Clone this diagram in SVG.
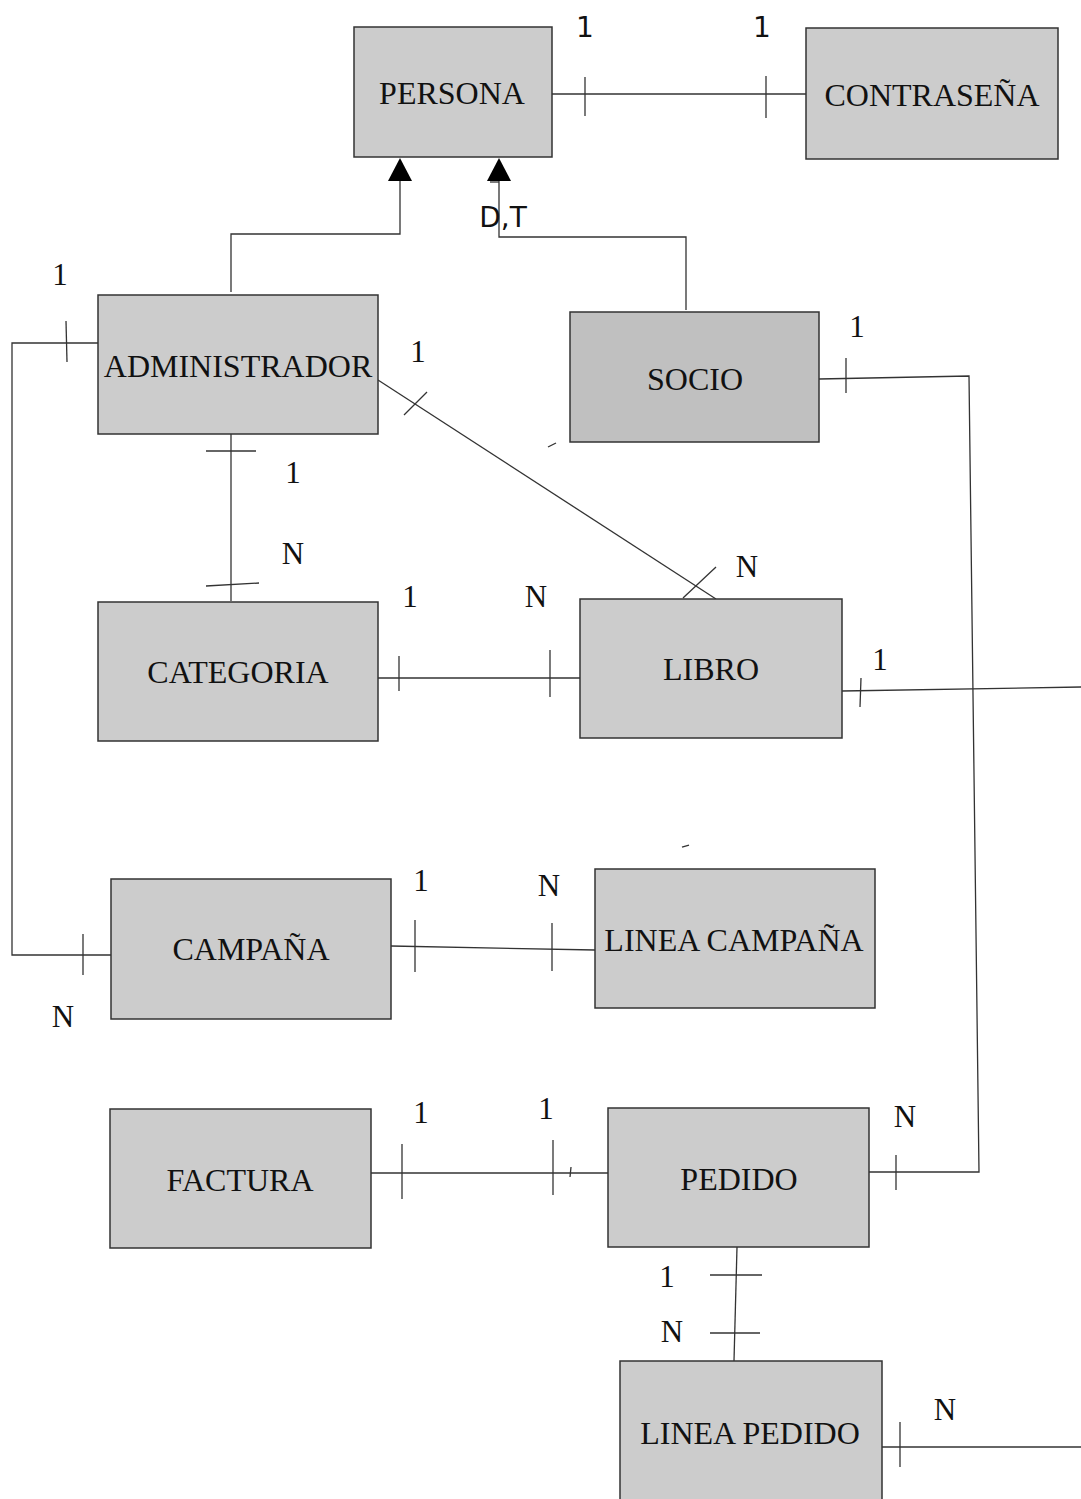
<svg xmlns="http://www.w3.org/2000/svg" width="1081" height="1499" viewBox="0 0 1081 1499">
<style>
.box{fill:#cccccc;stroke:#333333;stroke-width:1.5}
.dark{fill:#c0c0c0}
.ln{stroke:#333333;stroke-width:1.3;fill:none}
.nt{font-family:"Liberation Serif",serif;font-size:32px;fill:#111;text-anchor:middle}
.lb{font-family:"Liberation Serif",serif;font-size:31px;fill:#111;text-anchor:middle}
.sl{font-family:"DejaVu Sans",sans-serif;font-size:28px;fill:#111;text-anchor:middle}
</style>
<rect width="1081" height="1499" fill="#ffffff"/>
<g id="connectors">
<!-- PERSONA - CONTRASENA -->
<line class="ln" x1="552" y1="94" x2="806" y2="94"/>
<line class="ln" x1="585" y1="77" x2="585" y2="116"/>
<line class="ln" x1="766" y1="76" x2="766" y2="118"/>
<!-- ISA arrows -->
<path class="ln" d="M231,292 L231,234 L400,234 L400,180"/>
<path d="M388,181 L400,158 L412,181 Z" fill="#000"/>
<path class="ln" d="M686,310 L686,237 L499,237 L499,180"/>
<path d="M487,181 L499,158 L511,181 Z" fill="#000"/>
<line class="ln" x1="490" y1="182" x2="499" y2="182"/>
<!-- ADMIN - CAMPANA -->
<path class="ln" d="M98,343 L12,343 L12,955 L111,955"/>
<line class="ln" x1="66" y1="321" x2="67" y2="362"/>
<line class="ln" x1="83" y1="934" x2="83" y2="975"/>
<!-- ADMIN - LIBRO -->
<line class="ln" x1="378" y1="380" x2="716" y2="599"/>
<line class="ln" x1="404" y1="415" x2="427" y2="392"/>
<line class="ln" x1="683" y1="598" x2="716" y2="567"/>
<line class="ln" x1="548" y1="447" x2="556" y2="443"/>
<!-- ADMIN - CATEGORIA -->
<line class="ln" x1="231" y1="434" x2="231" y2="601"/>
<line class="ln" x1="206" y1="451" x2="256" y2="451"/>
<line class="ln" x1="206" y1="586" x2="259" y2="583"/>
<!-- CATEGORIA - LIBRO -->
<line class="ln" x1="378" y1="678" x2="580" y2="678"/>
<line class="ln" x1="399" y1="656" x2="399" y2="691"/>
<line class="ln" x1="550" y1="650" x2="550" y2="697"/>
<!-- LIBRO right -->
<line class="ln" x1="842" y1="691" x2="1081" y2="687"/>
<line class="ln" x1="861" y1="678" x2="860" y2="707"/>
<!-- SOCIO - PEDIDO -->
<path class="ln" d="M819,379 L969,376 L979,1172 L869,1172"/>
<line class="ln" x1="846" y1="358" x2="846" y2="393"/>
<line class="ln" x1="896" y1="1155" x2="896" y2="1190"/>
<!-- CAMPANA - LINEA CAMPANA -->
<line class="ln" x1="391" y1="946" x2="595" y2="950"/>
<line class="ln" x1="415" y1="920" x2="415" y2="972"/>
<line class="ln" x1="552" y1="923" x2="552" y2="971"/>
<line class="ln" x1="682" y1="847" x2="689" y2="845"/>
<line class="ln" x1="750" y1="904" x2="757" y2="902"/>
<!-- FACTURA - PEDIDO -->
<line class="ln" x1="371" y1="1173" x2="608" y2="1173"/>
<line class="ln" x1="402" y1="1144" x2="402" y2="1199"/>
<line class="ln" x1="553" y1="1140" x2="553" y2="1195"/>
<line class="ln" x1="571" y1="1167" x2="570" y2="1177"/>
<!-- PEDIDO - LINEA PEDIDO -->
<line class="ln" x1="737" y1="1247" x2="734" y2="1361"/>
<line class="ln" x1="710" y1="1275" x2="762" y2="1275"/>
<line class="ln" x1="710" y1="1333" x2="760" y2="1333"/>
<!-- LINEA PEDIDO right -->
<line class="ln" x1="882" y1="1447" x2="1081" y2="1447"/>
<line class="ln" x1="900" y1="1422" x2="900" y2="1467"/>
</g>
<g id="labels">
<text class="sl" x="585" y="37">1</text>
<text class="sl" x="762" y="37">1</text>
<text class="sl" x="503" y="227">D,T</text>
<text class="lb" x="60" y="285">1</text>
<text class="lb" x="418" y="362">1</text>
<text class="lb" x="857" y="337">1</text>
<text class="lb" x="293" y="483">1</text>
<text class="lb" x="293" y="564">N</text>
<text class="lb" x="747" y="577">N</text>
<text class="lb" x="410" y="607">1</text>
<text class="lb" x="536" y="607">N</text>
<text class="lb" x="880" y="670">1</text>
<text class="lb" x="421" y="891">1</text>
<text class="lb" x="549" y="896">N</text>
<text class="lb" x="63" y="1027">N</text>
<text class="lb" x="421" y="1123">1</text>
<text class="lb" x="546" y="1119">1</text>
<text class="lb" x="905" y="1127">N</text>
<text class="lb" x="667" y="1287">1</text>
<text class="lb" x="672" y="1342">N</text>
<text class="lb" x="945" y="1420">N</text>
</g>
<g id="persona"><rect class="box" x="354" y="27" width="198" height="130"/><text class="nt" x="452" y="104">PERSONA</text></g>
<g id="contrasena"><rect class="box" x="806" y="28" width="252" height="131"/><text class="nt" x="932" y="106">CONTRASEÑA</text></g>
<g id="administrador"><rect class="box" x="98" y="295" width="280" height="139"/><text class="nt" x="238" y="377">ADMINISTRADOR</text></g>
<g id="socio"><rect class="box dark" x="570" y="312" width="249" height="130"/><text class="nt" x="695" y="390">SOCIO</text></g>
<g id="categoria"><rect class="box" x="98" y="602" width="280" height="139"/><text class="nt" x="238" y="683">CATEGORIA</text></g>
<g id="libro"><rect class="box" x="580" y="599" width="262" height="139"/><text class="nt" x="711" y="680">LIBRO</text></g>
<g id="campana"><rect class="box" x="111" y="879" width="280" height="140"/><text class="nt" x="251" y="960">CAMPAÑA</text></g>
<g id="linea-campana"><rect class="box" x="595" y="869" width="280" height="139"/><text class="nt" x="734" y="951">LINEA CAMPAÑA</text></g>
<g id="factura"><rect class="box" x="110" y="1109" width="261" height="139"/><text class="nt" x="240" y="1191">FACTURA</text></g>
<g id="pedido"><rect class="box" x="608" y="1108" width="261" height="139"/><text class="nt" x="739" y="1190">PEDIDO</text></g>
<g id="linea-pedido"><rect class="box" x="620" y="1361" width="262" height="150"/><text class="nt" x="750" y="1444">LINEA PEDIDO</text></g>
</svg>
